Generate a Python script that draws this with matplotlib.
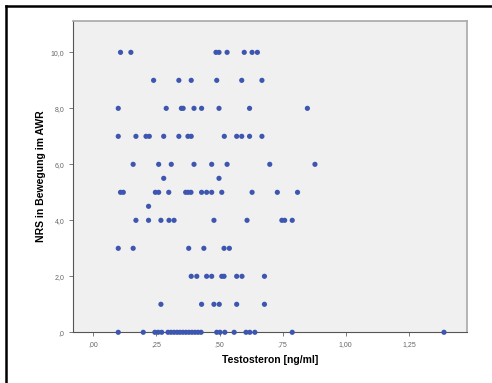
import matplotlib
matplotlib.use('Agg')
import matplotlib.pyplot as plt
from matplotlib.lines import Line2D

# testosterone [ng/ml] and NRS score
nrs_levels = [10, 9, 8, 7, 6, 5.5, 5, 4.5, 4, 3, 2, 1, 0]
testo_by_level = [
    [0.108, 0.149, 0.486, 0.498, 0.530, 0.598, 0.629, 0.650],
    [0.239, 0.339, 0.388, 0.489, 0.588, 0.668],
    [0.099, 0.289, 0.349, 0.356, 0.399, 0.429, 0.498, 0.619, 0.848],
    [0.099, 0.169, 0.209, 0.222, 0.279, 0.339, 0.375, 0.388, 0.519, 0.568,
     0.588, 0.619, 0.668],
    [0.158, 0.259, 0.309, 0.399, 0.469, 0.530, 0.699, 0.878],
    [0.279, 0.498],
    [0.108, 0.119, 0.246, 0.259, 0.299, 0.366, 0.376, 0.387, 0.429, 0.449,
     0.469, 0.509, 0.629, 0.729, 0.809],
    [0.219],
    [0.169, 0.219, 0.268, 0.300, 0.320, 0.478, 0.609, 0.747, 0.758, 0.788],
    [0.099, 0.158, 0.378, 0.438, 0.518, 0.539],
    [0.388, 0.410, 0.449, 0.469, 0.509, 0.518, 0.568, 0.589, 0.678],
    [0.268, 0.429, 0.478, 0.499, 0.568, 0.678],
    [0.099, 0.198, 0.244, 0.257, 0.271, 0.296, 0.308, 0.320, 0.332, 0.343,
     0.355, 0.367, 0.379, 0.391, 0.403, 0.415, 0.427, 0.489, 0.502, 0.521,
     0.558, 0.605, 0.620, 0.640, 0.788, 1.389],
]

x_ticks = [0, 0.25, 0.5, 0.75, 1.0, 1.25]
x_tick_labels = [',00', ',25', ',50', ',75', '1,00', '1,25']
y_ticks = [0, 2, 4, 6, 8, 10]
y_tick_labels = [',0', '2,0', '4,0', '6,0', '8,0', '10,0']

x = []
y = []
for level, vals in zip(nrs_levels, testo_by_level):
    x += vals
    y += [level] * len(vals)

plt.rcParams['font.family'] = ['Liberation Sans', 'DejaVu Sans']

fig = plt.figure(figsize=(4.92, 3.83), dpi=100)
ax = fig.add_axes([0.149, 0.1324, 0.7996, 0.8128])
ax.set_facecolor('#f0f0f0')
ax.scatter(x, y, s=14, color='#3d56b0', edgecolors='none', zorder=3, clip_on=False)

ax.set_xlim(-0.079, 1.479)
ax.set_ylim(0, 11.12)
ax.set_xticks(x_ticks)
ax.set_xticklabels(x_tick_labels)
ax.set_yticks(y_ticks)
ax.set_yticklabels(y_tick_labels)
ax.tick_params(labelsize=5, colors='#666666', length=3, width=0.6)

for side in ['left', 'bottom']:
    ax.spines[side].set_color('#555555')
    ax.spines[side].set_linewidth(0.8)
for side in ['top', 'right']:
    ax.spines[side].set_color('#a8a8a8')
    ax.spines[side].set_linewidth(1.2)

ax.set_xlabel('Testosteron [ng/ml]', fontsize=7.5, fontweight='bold', labelpad=5)
ax.set_ylabel('NRS in Bewegung im AWR', fontsize=7.5, fontweight='bold', labelpad=3)

# black outer frame (cropped at right/bottom)
fig.add_artist(Line2D([5.5 / 492, 5.5 / 492], [0, 1 - 6 / 383], color='black', lw=1.8))
fig.add_artist(Line2D([5.5 / 492, 1], [1 - 6 / 383, 1 - 6 / 383], color='black', lw=1.8))

fig.savefig('out.png', dpi=100)
